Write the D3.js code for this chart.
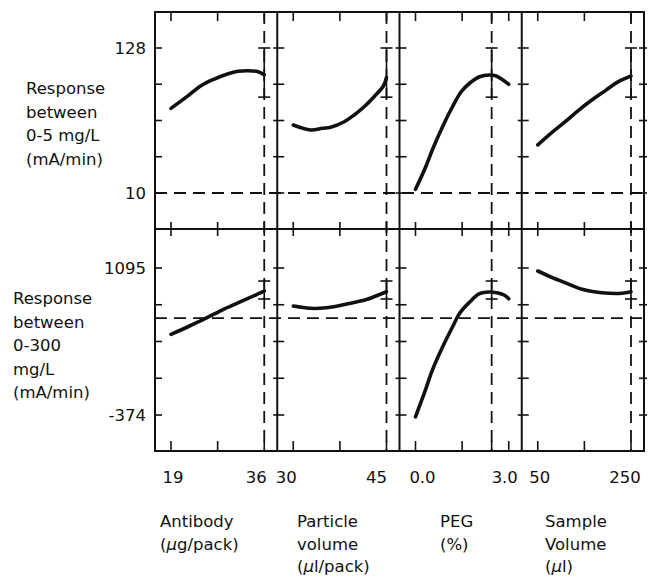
<!DOCTYPE html>
<html><head><meta charset="utf-8">
<script src="https://cdn.jsdelivr.net/npm/d3@7"></script>
<style>
body{margin:0;background:#fff}
svg{display:block}
text{font-family:"DejaVu Sans",Verdana,sans-serif;font-size:16.5px;fill:#111}
</style>
</head><body>
<svg id="c" width="649" height="576"></svg>
<script>
// ---------- data ----------
const factorNames = [["Antibody","(μg/pack)"],["Particle","volume","(μl/pack)"],["PEG","(%)"],["Sample","Volume","(μl)"]];
const xDomains = [[19,36],[30,45],[0,3],[50,250]];
const xTickValues = [[19,27.5,36],[30,37.5,45],[0,1.5,2.45,3],[50,150,250]];
const xTickLabels = [["19","36"],["30","45"],["0.0","3.0"],["50","250"]];
const xTickLabelValues = [[19,36],[30,45],[0,3],[50,250]];
const optimumX = [36,45,2.45,250];

const responseNames = [["Response","between","0-5 mg/L","(mA/min)"],["Response","between","0-300","mg/L","(mA/min)"]];
const yDomains = [[10,128],[-374,1095]];
const yTickLabels = [["10","128"],["-374","1095"]];
const refY = [10,595];
const errLow = [88,785];
const errHigh = [128,965];

// row 1 : response 0-5 mg/L
const antibodyX1 = [19,21.9,24.4,26.8,29.3,31.2,33,34.9,36];
const antibodyY1 = [78.9,88.4,97.1,102.5,106.8,109,109.5,108.7,106.3];
const particleX1 = [30,32.8,34.7,36,38.2,39.8,41.4,43,44.5,45];
const particleY1 = [65.3,61.3,62.7,63.5,68,73.5,80.2,88.4,97.1,104];
const pegX1 = [0,0.33,0.54,0.87,1.19,1.47,1.74,2.06,2.38,2.6,2.81,3.0];
const pegY1 = [13,31.4,45,64,80.2,92.4,99.3,104.6,106,105.2,102,98.5];
const sampleX1 = [50,80,109,138,166,195,223,250];
const sampleY1 = [49.1,59.1,68,77.5,85.7,93.3,100.6,105.2];
// row 2 : response 0-300 mg/L
const antibodyX2 = [19,22.1,25.2,28.3,31.3,34.4,36];
const antibodyY2 = [432,508,588,675,748,825,865];
const particleX2 = [30,32.7,34.3,36.5,39.2,41.9,44.1,45];
const particleY2 = [715,692,692,708,742,782,835,858];
const pegX2 = [0,0.28,0.54,0.87,1.19,1.41,1.74,2.06,2.38,2.65,2.85,3.0];
const pegY2 = [-392,-159,72,305,505,638,754,838,855,845,825,788];
const sampleX2 = [50,80,109,145,187,230,250];
const sampleY2 = [1065,1002,948,882,848,842,858];

const curvesX = [[antibodyX1,particleX1,pegX1,sampleX1],[antibodyX2,particleX2,pegX2,sampleX2]];
const curvesY = [[antibodyY1,particleY1,pegY1,sampleY1],[antibodyY2,particleY2,pegY2,sampleY2]];

// ---------- layout ----------
const L = 155, R = 644, T = 12, MID = 229, B = 451;
const nP = 4, pw = (R - L) / nP;
const rows = [[T, MID],[MID, B]];
const yPad = [[36,36],[39,36]];
const labelNudge = [[2,-8],[-7,-10],[7,-4],[2,-6]];

const svg = d3.select("#c");
const g = svg.append("g");

const xScales = xDomains.map((d,i) => d3.scaleLinear().domain(d).range([L + i*pw + 16, L + (i+1)*pw - 13]));
const yScales = yDomains.map((d,r) => d3.scaleLinear().domain(d).range([rows[r][1]-yPad[r][1], rows[r][0]+yPad[r][0]]));

const line = (x1,y1,x2,y2,w,dash) => {
  const l = g.append("line").attr("x1",x1).attr("y1",y1).attr("x2",x2).attr("y2",y2)
    .attr("stroke","#111").attr("stroke-width",w);
  if (dash) l.attr("stroke-dasharray",dash);
  return l;
};

// dashed reference lines
const DASH = "12,7";
for (let r = 0; r < 2; r++) {
  const y = yScales[r](refY[r]);
  line(L, y, R, y, 1.8, DASH);
}
for (let i = 0; i < nP; i++) {
  const x = xScales[i](optimumX[i]);
  line(x, T, x, B, 1.8, DASH);
}

// frame
g.append("rect").attr("x",L).attr("y",T).attr("width",R-L).attr("height",B-T)
  .attr("fill","none").attr("stroke","#111").attr("stroke-width",2);
line(L, MID, R, MID, 2);
for (let i = 1; i < nP; i++) line(L+i*pw, T, L+i*pw, B, 2);

// x ticks
for (let i = 0; i < nP; i++) {
  xTickValues[i].forEach(v => {
    const x = xScales[i](v);
    line(x, T, x, T+9, 1.6);
    line(x, MID-7, x, MID+7, 1.6);
    line(x, B-10, x, B, 1.6);
  });
}
// y ticks
for (let r = 0; r < 2; r++) {
  const ticks = d3.range(5).map(k => yDomains[r][0] + k*(yDomains[r][1]-yDomains[r][0])/4);
  ticks.forEach(v => {
    const y = yScales[r](v);
    line(L, y, L+7, y, 1.6);
    for (let i = 1; i < nP; i++) line(L+i*pw-4, y, L+i*pw+7, y, 1.6);
    line(R-5, y, R+3, y, 1.6);
  });
}

// error bars
for (let r = 0; r < 2; r++) {
  for (let i = 0; i < nP; i++) {
    const x = xScales[i](optimumX[i]);
    const y1 = yScales[r](errLow[r]), y2 = yScales[r](errHigh[r]);
    line(x, y1, x, y2, 1.6);
    line(x-6, y1, x+6, y1, 1.6);
    line(x-6, y2, x+6, y2, 1.6);
  }
}

// curves
for (let r = 0; r < 2; r++) {
  for (let i = 0; i < nP; i++) {
    const pts = curvesX[r][i].map((xv,k) => [xv, curvesY[r][i][k]]);
    const gen = d3.line().x(d => xScales[i](d[0])).y(d => yScales[r](d[1])).curve(d3.curveCatmullRom.alpha(0.5));
    g.append("path").attr("d", gen(pts)).attr("fill","none").attr("stroke","#111")
      .attr("stroke-width",3.6).attr("stroke-linecap","round").attr("stroke-linejoin","round");
  }
}

// y tick labels
for (let r = 0; r < 2; r++) {
  yTickLabels[r].forEach((t,k) => {
    g.append("text").attr("x",146).attr("y",yScales[r](yDomains[r][k])+6)
      .attr("text-anchor","end").text(t);
  });
}
// response titles
const titleStart = [[26,94],[13,304]];
for (let r = 0; r < 2; r++) {
  responseNames[r].forEach((t,k) => {
    g.append("text").attr("x",titleStart[r][0]).attr("y",titleStart[r][1]+k*23.5).text(t);
  });
}
// x tick labels
for (let i = 0; i < nP; i++) {
  xTickLabels[i].forEach((t,k) => {
    g.append("text").attr("x",xScales[i](xTickLabelValues[i][k])+labelNudge[i][k]).attr("y",483)
      .attr("text-anchor","middle").text(t);
  });
}
// factor titles
const factorStart = [160,297,440,545];
for (let i = 0; i < nP; i++) {
  factorNames[i].forEach((t,k) => {
    const txt = g.append("text").attr("x",factorStart[i]).attr("y",527+k*22.5);
    if (t.includes("μ")) {
      const parts = t.split("μ");
      txt.append("tspan").text(parts[0]);
      txt.append("tspan").attr("font-style","italic").text("μ");
      txt.append("tspan").text(parts[1]);
    } else txt.text(t);
  });
}
</script>
</body></html>
